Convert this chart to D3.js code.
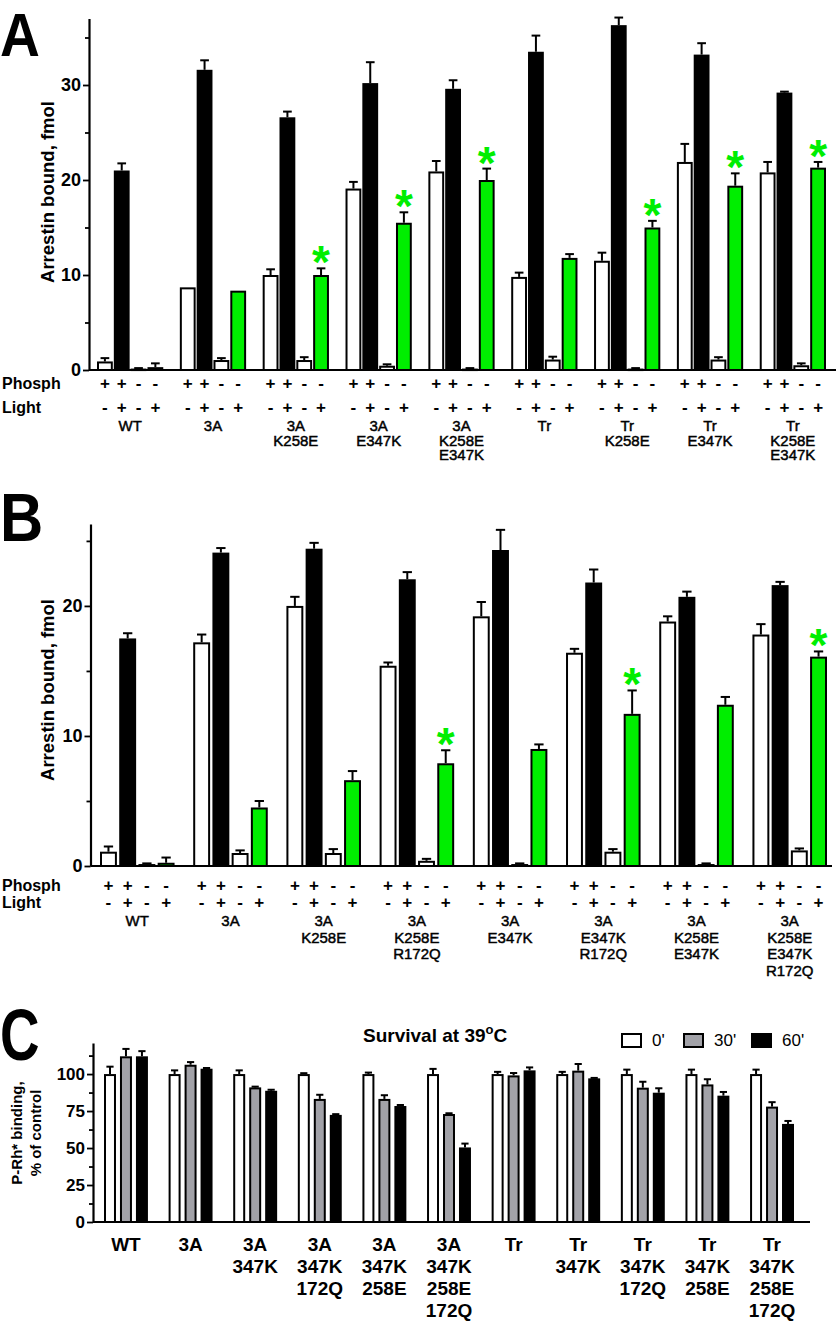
<!DOCTYPE html>
<html><head><meta charset="utf-8">
<script src="https://cdn.jsdelivr.net/npm/d3@7"></script>
<style>
body{margin:0;background:#fff}
svg{display:block}
text{font-family:"Liberation Sans",Arial,Helvetica,sans-serif;fill:#000}
</style>
</head><body>
<svg id="chart" width="840" height="1322"></svg>
<script>
// ---------------- DATA ----------------
// Panel A
const groupsA = ["WT", "3A", "3A|K258E", "3A|E347K", "3A|K258E|E347K", "Tr", "Tr|K258E", "Tr|E347K", "Tr|K258E|E347K"];
const aPhDark   = [0.9, 8.7, 10.0, 19.1, 20.9, 9.8, 11.5, 21.9, 20.8];
const aPhLight  = [21.0, 31.6, 26.6, 30.2, 29.6, 33.5, 36.3, 33.2, 29.2];
const aDark     = [0.15, 1.05, 1.05, 0.45, 0.15, 1.1, 0.15, 1.1, 0.5];
const aLight    = [0.3, 8.35, 10.0, 15.5, 20.0, 11.8, 15.0, 19.4, 21.3];
const aPhDarkErr  = [0.35, 0, 0.6, 0.7, 1.1, 0.45, 0.85, 1.9, 1.1];
const aPhLightErr = [0.75, 1.0, 0.6, 2.2, 0.9, 1.7, 0.8, 1.2, 0.1];
const aDarkErr    = [0.05, 0.2, 0.3, 0.15, 0.05, 0.3, 0.05, 0.25, 0.2];
const aLightErr   = [0.4, 0, 0.7, 1.1, 1.2, 0.4, 0.7, 1.3, 0.6];
const aStars      = [0, 0, 1, 1, 1, 0, 1, 1, 1];
const aTicks = [0, 10, 20, 30];

// Panel B
const groupsB = ["WT", "3A", "3A|K258E", "3A|K258E|R172Q", "3A|E347K", "3A|E347K|R172Q", "3A|K258E|E347K", "3A|K258E|E347K|R172Q"];
const bPhDark   = [1.1, 17.2, 20.0, 15.4, 19.2, 16.4, 18.8, 17.8];
const bPhLight  = [17.5, 24.1, 24.4, 22.05, 24.3, 21.8, 20.7, 21.6];
const bDark     = [0.15, 1.0, 1.0, 0.4, 0.15, 1.1, 0.15, 1.2];
const bLight    = [0.25, 4.5, 6.6, 7.9, 9.0, 11.7, 12.4, 16.1];
const bPhDarkErr  = [0.4, 0.6, 0.7, 0.25, 1.1, 0.3, 0.4, 0.8];
const bPhLightErr = [0.4, 0.35, 0.45, 0.55, 1.55, 1.0, 0.4, 0.25];
const bDarkErr    = [0.05, 0.2, 0.3, 0.15, 0.05, 0.2, 0.05, 0.15];
const bLightErr   = [0.4, 0.5, 0.7, 1.0, 0.35, 1.8, 0.6, 0.4];
const bStars      = [0, 0, 0, 1, 0, 1, 0, 1];
const bTicks = [0, 10, 20];

const phosphSigns = ["+", "+", "-", "-"];
const lightSigns  = ["-", "+", "-", "+"];

// Panel C
const groupsC = ["WT", "3A", "3A|347K", "3A|347K|172Q", "3A|347K|258E", "3A|347K|258E|172Q", "Tr", "Tr|347K", "Tr|347K|172Q", "Tr|347K|258E", "Tr|347K|258E|172Q"];
const c0   = [100, 100, 100, 100, 100, 100, 100, 100, 100, 100, 100];
const c30  = [112, 106.3, 91, 83.2, 83.2, 73, 99.1, 102.3, 90.8, 93, 78];
const c60  = [112, 103.6, 88.7, 72.4, 78.4, 50.4, 102.5, 97.1, 87.4, 85.4, 66.3];
const c0Err  = [5, 2.5, 2.5, 0.6, 1, 3.5, 1.5, 1.5, 3, 3, 3];
const c30Err = [5, 1.8, 0.5, 2.8, 2.5, 0.5, 1.6, 4.5, 4, 3.5, 3];
const c60Err = [3.5, 0.5, 0.7, 0.5, 0.7, 2.6, 2, 0.3, 3, 2.5, 2];
const cTicks = [0, 25, 50, 75, 100];
const cLegend = ["0'", "30'", "60'"];

// ---------------- DRAWING ----------------
const GREEN = "#00ee00";
const GRAY = "#a2a2a8";
const svg = d3.select("#chart");

function bigLetter(t, x, y, size, sx) {
  svg.append("text").attr("transform", `translate(${x},${y}) scale(${sx},1)`)
    .attr("font-size", size).attr("font-weight", "bold").text(t);
}

function yAxis(y, axisX, majors, minors, fontSize) {
  const gMaj = svg.append("g").attr("transform", `translate(${axisX},0)`)
    .call(d3.axisLeft(y).tickValues(majors).tickSize(6).tickSizeOuter(0).tickPadding(2).tickFormat(d3.format("d")));
  gMaj.select(".domain").attr("stroke-width", 2.2);
  gMaj.selectAll(".tick line").attr("stroke-width", 1.8);
  gMaj.selectAll(".tick text").attr("font-size", fontSize).attr("font-weight", "bold")
    .attr("font-family", '"Liberation Sans",Arial,sans-serif').attr("fill", "#000");
  const gMin = svg.append("g").attr("transform", `translate(${axisX},0)`)
    .call(d3.axisLeft(y).tickValues(minors).tickSize(4).tickSizeOuter(0).tickFormat(""));
  gMin.select(".domain").remove();
  gMin.selectAll(".tick line").attr("stroke-width", 1.8);
}

function multiLine(g, label, cx, y0, dy, size, weight, thick) {
  const t = g.append("text").attr("text-anchor", "middle").attr("font-size", size).attr("font-weight", weight);
  if (thick) t.attr("stroke", "#000").attr("stroke-width", thick);
  label.split("|").forEach((s, i) => {
    t.append("tspan").attr("x", cx).attr("y", y0 + i * dy).text(s);
  });
}

function drawBars(x, xi, y, seriesVals, seriesErr, fills, capFrac) {
  const g = svg.append("g");
  seriesVals.forEach((vals, s) => {
    vals.forEach((v, i) => {
      const bx = x(i) + xi(s), bw = xi.bandwidth();
      const cx = bx + bw / 2;
      const e = seriesErr[s][i];
      if (e > 0) {
        g.append("line").attr("x1", cx).attr("x2", cx).attr("y1", y(v)).attr("y2", y(v + e))
          .attr("stroke", "#000").attr("stroke-width", 2);
        g.append("line").attr("x1", cx - bw * capFrac / 2).attr("x2", cx + bw * capFrac / 2)
          .attr("y1", y(v + e)).attr("y2", y(v + e)).attr("stroke", "#000").attr("stroke-width", 2);
      }
      g.append("rect").attr("x", bx + 1).attr("width", bw - 2)
        .attr("y", y(v) + 1).attr("height", Math.max(0.5, y(0) - y(v) - 1))
        .attr("fill", fills[s]).attr("stroke", "#000").attr("stroke-width", 2);
    });
  });
  return g;
}

function panelAB(cfg) {
  const n = cfg.groups.length;
  const x = d3.scaleBand().domain(d3.range(n)).range(cfg.xRange).paddingInner(cfg.padG).paddingOuter(0);
  const xi = d3.scaleBand().domain(d3.range(4)).range([0, x.bandwidth()]).paddingInner(cfg.padB);
  const y = d3.scaleLinear().domain([0, cfg.yMax]).range([cfg.y0, cfg.yTop]);

  drawBars(x, xi, y, cfg.vals, cfg.errs, ["#fff", "#000", "#fff", GREEN], 0.55);

  // stars
  cfg.stars.forEach((st, i) => {
    if (!st) return;
    const v = cfg.vals[3][i] + cfg.errs[3][i];
    svg.append("text").attr("x", x(i) + xi(3) + xi.bandwidth() / 2).attr("y", y(v) + cfg.starDy)
      .attr("text-anchor", "middle").attr("font-size", 46).attr("font-weight", "bold")
      .style("fill", GREEN).text("*");
  });

  // axes
  svg.append("line").attr("x1", cfg.axisX).attr("x2", cfg.xEnd).attr("y1", y(0)).attr("y2", y(0))
    .attr("stroke", "#000").attr("stroke-width", 2.2);
  yAxis(y, cfg.axisX, cfg.ticks, cfg.minors, 18);

  svg.append("text").attr("transform", `translate(${cfg.labX},${cfg.labY}) rotate(-90)`)
    .attr("text-anchor", "middle").attr("font-size", 18.5).attr("font-weight", "bold")
    .text("Arrestin bound, fmol");

  // Phosph / Light rows
  svg.append("text").attr("x", 2).attr("y", cfg.phY + 6).attr("font-size", 16).attr("font-weight", "bold").text("Phosph");
  svg.append("text").attr("x", 2).attr("y", cfg.liY + 6).attr("font-size", 16).attr("font-weight", "bold").text("Light");
  const gs = svg.append("g");
  d3.range(n).forEach(i => {
    d3.range(4).forEach(s => {
      const cx = x(i) + xi(s) + xi.bandwidth() / 2;
      gs.append("text").attr("x", cx).attr("y", cfg.phY + 6).attr("text-anchor", "middle")
        .attr("font-size", 17).attr("font-weight", "bold").text(phosphSigns[s]);
      gs.append("text").attr("x", cx).attr("y", cfg.liY + 6).attr("text-anchor", "middle")
        .attr("font-size", 17).attr("font-weight", "bold").text(lightSigns[s]);
    });
    multiLine(gs, cfg.groups[i], x(i) + x.bandwidth() / 2, cfg.labTop + 5, cfg.labDy, 15, "normal", 0.45);
  });
}

// ---- Panel A ----
bigLetter("A", 0, 56, 62, 0.89);
panelAB({
  groups: groupsA,
  vals: [aPhDark, aPhLight, aDark, aLight],
  errs: [aPhDarkErr, aPhLightErr, aDarkErr, aLightErr],
  stars: aStars,
  xRange: [97, 826], padG: 0.2, padB: 0.06,
  yMax: 37, y0: 370, yTop: 18.5,
  ticks: aTicks, minors: [5, 15, 25, 35],
  axisX: 89, xEnd: 836,
  labX: 54, labY: 192,
  phY: 383, liY: 407, labTop: 426, labDy: 14.5,
  starDy: 10
});

// ---- Panel B ----
bigLetter("B", 0, 541, 68, 0.88);
panelAB({
  groups: groupsB,
  vals: [bPhDark, bPhLight, bDark, bLight],
  errs: [bPhDarkErr, bPhLightErr, bDarkErr, bLightErr],
  stars: bStars,
  xRange: [100, 827], padG: 0.2, padB: 0.12,
  yMax: 26.3, y0: 866, yTop: 524,
  ticks: bTicks, minors: [5, 15, 25],
  axisX: 90.5, xEnd: 832,
  labX: 54, labY: 690,
  phY: 885, liY: 902, labTop: 921, labDy: 16.5,
  starDy: 10
});

// ---- Panel C ----
bigLetter("C", 0, 1060, 72, 0.76);
(function () {
  const n = groupsC.length;
  const x = d3.scaleBand().domain(d3.range(n)).range([104, 794]).paddingInner(0.32).paddingOuter(0);
  const xi = d3.scaleBand().domain(d3.range(3)).range([0, x.bandwidth()]).paddingInner(0.25);
  const y = d3.scaleLinear().domain([0, 121]).range([1222, 1043]);
  drawBars(x, xi, y, [c0, c30, c60], [c0Err, c30Err, c60Err], ["#fff", GRAY, "#000"], 0.6);

  svg.append("line").attr("x1", 93).attr("x2", 810).attr("y1", y(0)).attr("y2", y(0))
    .attr("stroke", "#000").attr("stroke-width", 2.2);
  yAxis(y, 93, cTicks, [12.5, 37.5, 62.5, 87.5, 112.5], 17);

  const gl = svg.append("g");
  d3.range(n).forEach(i => multiLine(gl, groupsC[i], x(i) + x.bandwidth() / 2, 1251, 22, 19, "bold", 0));

  const yl = svg.append("text").attr("transform", "translate(0,1133) rotate(-90)")
    .attr("text-anchor", "middle").attr("font-size", 15).attr("font-weight", "bold");
  yl.append("tspan").attr("x", 0).attr("y", 22).text("P-Rh* binding,");
  yl.append("tspan").attr("x", 0).attr("y", 41).text("% of control");

  const tt = svg.append("text").attr("x", 363).attr("y", 1042).attr("font-size", 19).attr("font-weight", "bold");
  tt.append("tspan").text("Survival at 39");
  tt.append("tspan").attr("font-size", 13).attr("dy", -8).text("o");
  tt.append("tspan").attr("dy", 8).text("C");

  const legX = [621, 683, 751];
  const fills = ["#fff", GRAY, "#000"];
  cLegend.forEach((t, i) => {
    svg.append("rect").attr("x", legX[i] + 1).attr("y", 1034).attr("width", 19).attr("height", 13)
      .attr("fill", fills[i]).attr("stroke", "#000").attr("stroke-width", 2);
    svg.append("text").attr("x", legX[i] + 31).attr("y", 1046).attr("font-size", 17).text(t);
  });
})();
</script>
</body></html>
